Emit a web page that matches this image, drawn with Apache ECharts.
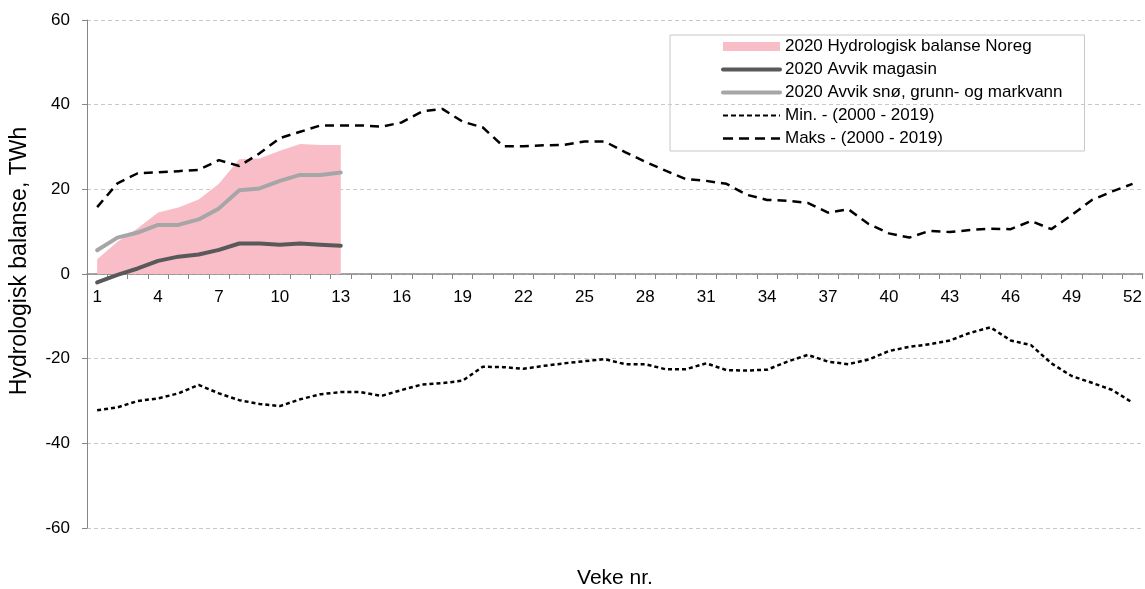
<!DOCTYPE html>
<html>
<head>
<meta charset="utf-8">
<script src="https://cdn.jsdelivr.net/npm/echarts@6/dist/echarts.min.js"></script>
<style>
  html, body { margin: 0; padding: 0; background: #fff; }
  #chart { width: 1145px; height: 589px; }
</style>
</head>
<body>
<div id="chart"></div>
<script>
const weeks = [1, 2, 3, 4, 5, 6, 7, 8, 9, 10, 11, 12, 13, 14, 15, 16, 17, 18, 19, 20, 21, 22, 23, 24, 25, 26,
  27, 28, 29, 30, 31, 32, 33, 34, 35, 36, 37, 38, 39, 40, 41, 42, 43, 44, 45, 46, 47, 48, 49, 50, 51, 52];

// 2020 (veke 1-13)
const hydroBalanse = [3.5, 7.6, 10.8, 14.5, 15.7, 17.6, 21.3, 27.1, 27.3, 29.1, 30.7, 30.5, 30.5];
const avvikMagasin = [-2.0, -0.2, 1.3, 3.1, 4.1, 4.6, 5.7, 7.2, 7.2, 6.9, 7.2, 6.9, 6.7];
const avvikSno = [5.6, 8.6, 9.8, 11.6, 11.6, 12.9, 15.5, 19.8, 20.2, 22.0, 23.4, 23.4, 24.0];

// 2000 - 2019
const minVals = [-32.2, -31.5, -30.0, -29.4, -28.2, -26.2, -28.2, -29.8, -30.7, -31.2,
  -29.6, -28.4, -27.9, -27.9, -28.8, -27.4, -26.1, -25.8, -25.2, -21.9,
  -22.0, -22.4, -21.7, -21.1, -20.6, -20.1, -21.3, -21.3, -22.5, -22.5,
  -21.1, -22.7, -22.8, -22.6, -20.7, -19.1, -20.7, -21.3, -20.2, -18.2,
  -17.2, -16.6, -15.7, -13.9, -12.6, -15.7, -16.8, -21.1, -24.1, -25.7,
  -27.4, -30.4];
const maksVals = [15.8, 21.4, 23.8, 24.0, 24.3, 24.6, 26.9, 25.5, 28.5, 32.1,
  33.6, 35.1, 35.1, 35.1, 34.8, 35.8, 38.4, 39.0, 36.0, 34.6,
  30.2, 30.2, 30.4, 30.5, 31.3, 31.3, 28.8, 26.5, 24.4, 22.4,
  22.0, 21.3, 18.7, 17.5, 17.3, 16.8, 14.5, 15.3, 11.8, 9.6,
  8.6, 10.2, 9.9, 10.4, 10.7, 10.6, 12.5, 10.6, 13.9, 17.5,
  19.5, 21.3];

const yTicks = [-60, -40, -20, 0, 20, 40, 60];

const FONT = '"Liberation Sans", Arial, sans-serif';
const PINK = '#F9BDC8';

const chart = echarts.init(document.getElementById('chart'), null, { renderer: 'canvas' });

// grid is 508px tall for -60..60, so the zero line sits 254px above the bottom
const zeroOffset = -254;

const noSymbol = { opacity: 0 };

const option = {
  backgroundColor: '#fff',
  animation: false,
  textStyle: { fontFamily: FONT, color: '#000' },
  grid: { left: 87, right: 2, top: 20, bottom: 61, containLabel: false },
  legend: {
    orient: 'vertical',
    left: 670,
    top: 35,
    padding: [3, 22, 4, 51],
    itemWidth: 57,
    itemHeight: 9,
    itemGap: 6,
    borderColor: '#C8C8C8',
    borderWidth: 1,
    textStyle: { fontFamily: FONT, fontSize: 17, color: '#000' },
    data: [
      { name: '2020 Hydrologisk balanse Noreg', icon: 'rect', itemStyle: { color: PINK } },
      { name: '2020 Avvik magasin', itemStyle: noSymbol, lineStyle: { width: 4 } },
      { name: '2020 Avvik snø, grunn- og markvann', itemStyle: noSymbol, lineStyle: { width: 4 } },
      { name: 'Min. - (2000 - 2019)', itemStyle: noSymbol, lineStyle: { width: 2, type: [5, 3] } },
      { name: 'Maks - (2000 - 2019)', itemStyle: noSymbol, lineStyle: { width: 2.5, type: [10, 6] } }
    ]
  },
  xAxis: {
    type: 'category',
    data: weeks,
    boundaryGap: true,
    position: 'bottom',
    offset: zeroOffset,
    axisLine: { onZero: false, lineStyle: { color: '#868686', width: 1.5 } },
    axisTick: { show: true, interval: 0, length: 5, lineStyle: { color: '#868686' } },
    axisLabel: { interval: 2, margin: 15, fontSize: 17, color: '#000', fontFamily: FONT },
    splitLine: { show: false }
  },
  yAxis: {
    type: 'value',
    min: yTicks[0],
    max: yTicks[yTicks.length - 1],
    interval: 20,
    axisLine: { show: true, lineStyle: { color: '#868686', width: 1 } },
    axisTick: { show: true, length: 5, lineStyle: { color: '#868686' } },
    axisLabel: { margin: 17, fontSize: 17, color: '#000', fontFamily: FONT },
    splitLine: { lineStyle: { color: '#C8C8C8', type: [4, 3], width: 1 } }
  },
  graphic: [
    {
      type: 'text',
      x: 20,
      y: 261,
      rotation: Math.PI / 2,
      style: {
        text: 'Hydrologisk balanse, TWh',
        font: '23px ' + FONT,
        fill: '#000',
        align: 'center',
        verticalAlign: 'middle'
      }
    },
    {
      type: 'text',
      x: 615,
      y: 578,
      style: {
        text: 'Veke nr.',
        font: '21px ' + FONT,
        fill: '#000',
        align: 'center',
        verticalAlign: 'middle'
      }
    }
  ],
  series: [
    {
      name: '2020 Hydrologisk balanse Noreg',
      type: 'line',
      data: hydroBalanse,
      showSymbol: false,
      symbol: 'none',
      color: PINK,
      lineStyle: { width: 0, color: PINK },
      areaStyle: { color: PINK, opacity: 1, origin: 0 },
      z: 1
    },
    {
      name: 'Maks - (2000 - 2019)',
      type: 'line',
      data: maksVals,
      showSymbol: false,
      symbol: 'none',
      color: '#000',
      lineStyle: { width: 2.5, color: '#000', type: [9, 6] },
      z: 3
    },
    {
      name: 'Min. - (2000 - 2019)',
      type: 'line',
      data: minVals,
      showSymbol: false,
      symbol: 'none',
      color: '#000',
      lineStyle: { width: 2.5, color: '#000', type: [4, 3] },
      z: 3
    },
    {
      name: '2020 Avvik snø, grunn- og markvann',
      type: 'line',
      data: avvikSno,
      showSymbol: false,
      symbol: 'none',
      color: '#A6A6A6',
      lineStyle: { width: 4, color: '#A6A6A6', cap: 'round', join: 'round' },
      z: 4
    },
    {
      name: '2020 Avvik magasin',
      type: 'line',
      data: avvikMagasin,
      showSymbol: false,
      symbol: 'none',
      color: '#595959',
      lineStyle: { width: 4, color: '#595959', cap: 'round', join: 'round' },
      z: 4
    }
  ]
};

chart.setOption(option);
</script>
</body>
</html>
